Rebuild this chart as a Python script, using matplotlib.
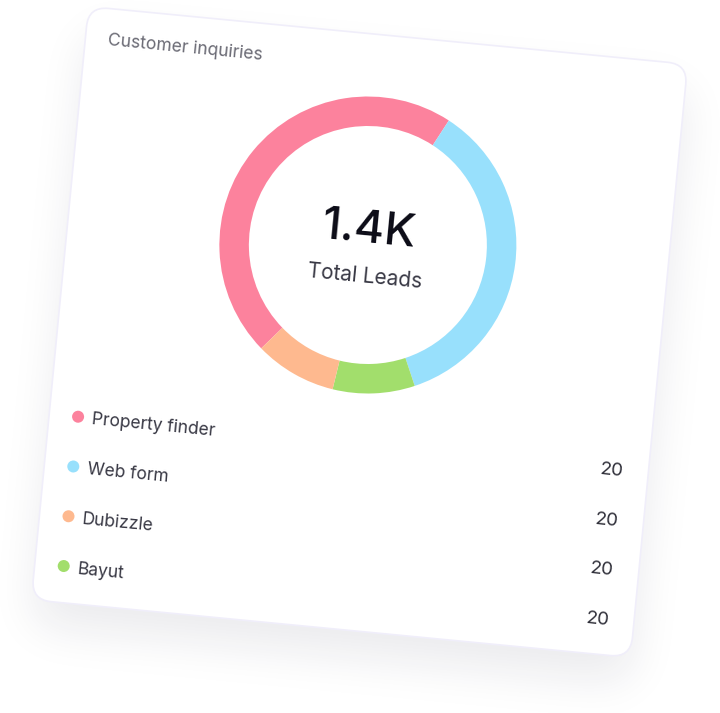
import numpy as np
import matplotlib.pyplot as plt
from matplotlib.patches import FancyBboxPatch, Circle
from matplotlib.transforms import Affine2D

plt.rcParams['font.family'] = ['Inter', 'DejaVu Sans']

# --- data ---
title = "Customer inquiries"
center_label = "Total Leads"
sources = ["Property finder", "Web form", "Dubizzle", "Bayut"]
colors = ["#FC829D", "#98E0FC", "#FEB98F", "#A2DE6C"]
leads = [650, 500, 125, 125]
shown_values = ["20", "20", "20", "20"]
ring_order = [0, 1, 3, 2]  # clockwise order of the slices in the ring

# --- layout (pixels) ---
W, H = 720, 713
tilt = 5.5                 # card rotation, clockwise on screen
cx, cy = 359.5, 332        # card centre
hw, hh = 301, 298          # card half sizes
corner = 20
ring_center = (0, -87.4)   # in card coords
ring_r, ring_w = 148.5, 29.5
ring_start = 220.4         # clockwise from card "up"

fig = plt.figure(figsize=(W / 100, H / 100), dpi=100)
ax = fig.add_axes([0, 0, 1, 1])

card = Affine2D().rotate_deg(tilt).translate(cx, cy)
tr = card + ax.transData

# soft drop shadow under the card
yy, xx = np.mgrid[0:H, 0:W] + 0.5
c, s = np.cos(np.radians(tilt)), np.sin(np.radians(tilt))
dx, dy = xx - cx, yy - (cy + 26)
u = dx * c + dy * s
v = -dx * s + dy * c
qx = np.abs(u) - (hw - corner)
qy = np.abs(v) - (hh - corner)
dist = np.hypot(np.maximum(qx, 0), np.maximum(qy, 0)) + np.minimum(np.maximum(qx, qy), 0) - corner
mask = (dist < 0).astype(float)
sig = 22
k = np.exp(-0.5 * (np.arange(-3 * sig, 3 * sig + 1) / sig) ** 2)
k /= k.sum()
blur = np.apply_along_axis(lambda r: np.convolve(r, k, 'same'), 1, mask)
blur = np.apply_along_axis(lambda r: np.convolve(r, k, 'same'), 0, blur)
shadow = np.zeros((H, W, 4))
shadow[..., :3] = (0.10, 0.10, 0.22)
shadow[..., 3] = 0.085 * blur
ax.imshow(shadow, extent=(0, W, H, 0), zorder=0, interpolation='bilinear')

ax.add_patch(FancyBboxPatch((-hw, -hh), 2 * hw, 2 * hh,
                            boxstyle=f"round,pad=0,rounding_size={corner}",
                            fc='white', ec='#F0EEFA', lw=1.2, transform=tr, zorder=1))

txt = dict(transform=tr, rotation=-tilt, rotation_mode='anchor', zorder=3)
ax.text(-278.4, -262, title, ha='left', va='baseline', fontsize=12.6, color='#6B6B75', **txt)

total = sum(leads)
ax.text(0, -89.5, f"{total / 1000:.1f}K", ha='center', va='baseline', fontsize=33,
        fontweight='medium', color='#0B0B16', **txt)
ax.text(0, -49.5, center_label, ha='center', va='baseline', fontsize=15, color='#383844', **txt)

for i, (name, col, val) in enumerate(zip(sources, colors, shown_values)):
    row = 111.3 + 50 * i
    ax.add_patch(Circle((-272, row), 6, fc=col, ec='none', transform=tr, zorder=3))
    ax.text(-258, row + 6.3, name, ha='left', va='baseline', fontsize=12.5, color='#383844', **txt)
    ax.text(276, row + 6.8, val, ha='right', va='baseline', fontsize=13.5, color='#2E2E38', **txt)

ax.set_xlim(0, W)
ax.set_ylim(H, 0)
ax.axis('off')

# donut: a circle, so only its start angle follows the card tilt
px, py = card.transform(ring_center)
size = 330
pax = fig.add_axes([(px - size / 2) / W, 1 - (py + size / 2) / H, size / W, size / H])
pax.pie([leads[i] for i in ring_order], colors=[colors[i] for i in ring_order],
        startangle=90 - (ring_start + tilt), counterclock=False, radius=1,
        wedgeprops=dict(width=ring_w / ring_r, linewidth=0))
lim = size / 2 / ring_r
pax.set_xlim(-lim, lim)
pax.set_ylim(-lim, lim)

fig.savefig("out.png", dpi=100, facecolor='white')
